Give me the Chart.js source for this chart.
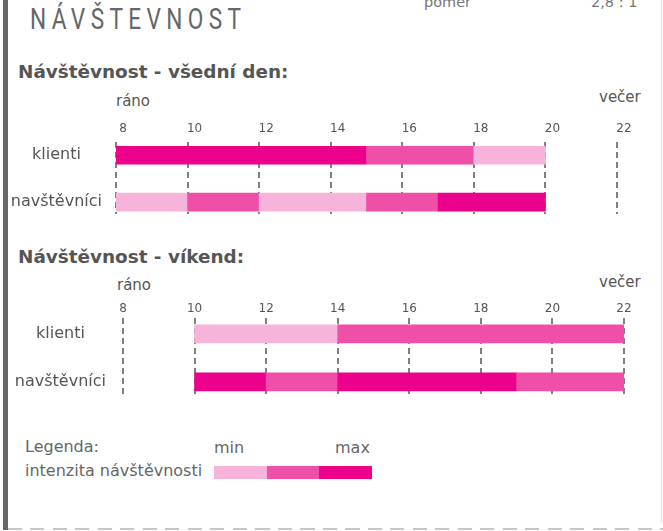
<!DOCTYPE html>
<html>
<head>
<meta charset="utf-8">
<script src="https://cdn.jsdelivr.net/npm/chart.js@4.4.0/dist/chart.umd.min.js"></script>
<style>
  html, body { margin: 0; padding: 0; background: #fff; }
  body { width: 663px; height: 531px; position: relative; overflow: hidden;
         font-family: "DejaVu Sans", Verdana, sans-serif; color: #555; }
  .t { position: absolute; white-space: nowrap; line-height: 1; }
  canvas { position: absolute; left: 0; }
  #leftBar { position: absolute; left: 3px; top: 0; width: 5px; height: 530px; background: #666; }
  #rightBar { position: absolute; left: 661px; top: 0; width: 1px; height: 523px; background: #e0e0e0; }
  #bottomLine { position: absolute; left: 8px; top: 528px; width: 655px; height: 2px;
                background: repeating-linear-gradient(to right, #c6c6c6 0 14px, transparent 14px 22.5px); }
  #title { left: 30px; top: 4.5px; font-family: Roboto, sans-serif; font-weight: 400; font-size: 29.5px;
           letter-spacing: 7px; color: #666; transform-origin: 0 0; }
  .head { font-weight: bold; font-size: 18.4px; color: #555; left: 18px; }
  .tod { font-size: 15px; color: #555; }
  .legend { font-size: 16px; color: #666; }
  .swatch { position: absolute; top: 466px; height: 13px; }
</style>
</head>
<body>
<div id="leftBar"></div>
<div id="rightBar"></div>
<div id="bottomLine"></div>

<div class="t" id="title">NÁVŠTEVNOST</div>
<div class="t" style="left:424px; top:-5px; font-size:14.5px; color:#777;">pomer</div>
<div class="t" style="left:591px; top:-5px; font-size:14.5px; color:#777;">2,8 : 1</div>

<div class="t head" style="top:62.7px;">Návštěvnost - všední den:</div>
<div class="t tod" style="left:116px; top:94px;">ráno</div>
<div class="t tod" style="left:599px; top:90.2px;">večer</div>
<canvas id="weekday" width="663" height="98" style="top:116px;"></canvas>

<div class="t head" style="top:247.7px;">Návštěvnost - víkend:</div>
<div class="t tod" style="left:117px; top:278px;">ráno</div>
<div class="t tod" style="left:599px; top:275.2px;">večer</div>
<canvas id="weekend" width="663" height="95" style="top:300px;"></canvas>

<div class="t legend" style="left:25px; top:439px;">Legenda:</div>
<div class="t legend" style="left:25px; top:462.5px;">intenzita návštěvnosti</div>
<div class="t legend" style="left:214px; top:439.5px;">min</div>
<div class="t legend" style="left:335px; top:439.5px;">max</div>
<div id="swatches"></div>

<script>
// hodiny na ose
const hourTicks = [8, 10, 12, 14, 16, 18, 20, 22];
const rowNames = ['klienti', 'navštěvníci'];
// intenzita 1 = min, 3 = max
const levelColors = ['#f8b3da', '#f04fa8', '#ec008c'];

// všední den
const weekdayKlientiHours = [8, 15, 18, 20];
const weekdayKlientiLevels = [3, 2, 1];
const weekdayNavstevniciHours = [8, 10, 12, 15, 17, 20];
const weekdayNavstevniciLevels = [1, 2, 1, 2, 3];

// víkend
const weekendKlientiHours = [10, 14, 22];
const weekendKlientiLevels = [1, 2];
const weekendNavstevniciHours = [10, 12, 14, 19, 22];
const weekendNavstevniciLevels = [3, 2, 3, 2];

function segments(hours, levels, row) {
  return levels.map((lv, i) => ({ x: [hours[i], hours[i + 1]], y: row, level: lv }));
}

function makeChart(id, rowsHours, rowsLevels, cfg) {
  const datasets = rowNames.map((name, r) => ({
    label: name,
    data: segments(rowsHours[r], rowsLevels[r], r),
    backgroundColor: ctx => ctx.raw ? levelColors[ctx.raw.level - 1] : levelColors[0],
    borderWidth: 0,
    barThickness: 18,
    grouped: false
  }));

  return new Chart(document.getElementById(id), {
    type: 'bar',
    data: { datasets: datasets },
    options: {
      indexAxis: 'y',
      responsive: false,
      animation: false,
      layout: { padding: { left: 0, right: cfg.right, top: 0, bottom: 0 } },
      plugins: { legend: { display: false }, tooltip: { enabled: false } },
      scales: {
        x: {
          type: 'linear',
          position: 'top',
          min: hourTicks[0],
          max: hourTicks[hourTicks.length - 1],
          z: 1,
          afterBuildTicks: s => { s.ticks = hourTicks.map(v => ({ value: v })); },
          ticks: {
            color: '#555',
            font: { family: 'DejaVu Sans', size: 12 },
            padding: cfg.tickPad,
            labelOffset: cfg.labelOffset,
            maxRotation: 0,
            autoSkip: false
          },
          grid: { color: '#808080', lineWidth: 2, drawTicks: false },
          border: { display: false, dash: [6, 4] }
        },
        y: {
          type: 'linear',
          reverse: true,
          offset: false,
          min: cfg.yMin,
          max: cfg.yMax,
          afterBuildTicks: s => { s.ticks = rowNames.map((n, i) => ({ value: i })); },
          afterFit: s => { s.width = cfg.axisWidth; s.paddingTop = 0; s.paddingBottom = 0; },
          ticks: {
            callback: v => rowNames[v],
            color: '#555',
            font: { family: 'DejaVu Sans', size: 16 },
            crossAlign: 'center',
            padding: cfg.rowPad
          },
          grid: { display: false },
          border: { display: false }
        }
      }
    }
  });
}

makeChart('weekday',
  [weekdayKlientiHours, weekdayNavstevniciHours],
  [weekdayKlientiLevels, weekdayNavstevniciLevels],
  { right: 46, axisWidth: 116, tickPad: 6, labelOffset: 7, yMin: -0.275, yMax: 1.255, rowPad: 6 });

makeChart('weekend',
  [weekendKlientiHours, weekendNavstevniciHours],
  [weekendKlientiLevels, weekendNavstevniciLevels],
  { right: 39, axisWidth: 123, tickPad: 2, labelOffset: 0, yMin: -0.323, yMax: 1.273, rowPad: 9 });

// legenda
const swatchLefts = [214, 267, 319];
const swatchHost = document.getElementById('swatches');
levelColors.forEach((c, i) => {
  const d = document.createElement('div');
  d.className = 'swatch';
  d.style.left = swatchLefts[i] + 'px';
  d.style.width = ((swatchLefts[i + 1] || 372) - swatchLefts[i]) + 'px';
  d.style.background = c;
  swatchHost.appendChild(d);
});

// zúžení nadpisu
const title = document.getElementById('title');
const w = title.getBoundingClientRect().width - 7;
title.style.transform = 'scaleX(' + (211 / w) + ')';
</script>
</body>
</html>
